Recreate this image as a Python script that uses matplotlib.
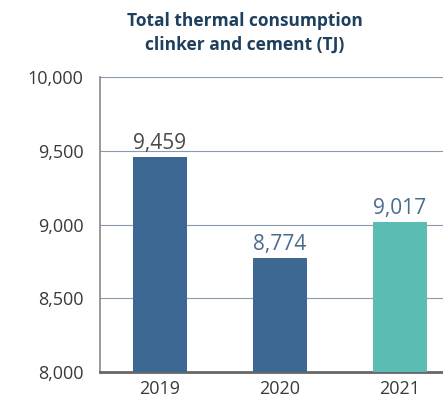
import matplotlib
matplotlib.use("Agg")
import matplotlib.pyplot as plt

years = ["2019", "2020", "2021"]
consumption = [9459, 8774, 9017]
bar_colors = ["#3d6894", "#3d6894", "#5bbcb4"]
label_colors = ["#4a4a4a", "#4a6b8c", "#4a6b8c"]
yticks = [8000, 8500, 9000, 9500, 10000]

plt.rcParams['font.family'] = ['Open Sans', 'DejaVu Sans']

fig = plt.figure(figsize=(4.43, 4.03), dpi=100)
ax = fig.add_axes([0.2257, 0.0769, 0.7743, 0.732])

x = list(range(len(years)))
ax.bar(x, [v - 8000 for v in consumption], bottom=8000, width=0.45,
       color=bar_colors, zorder=3)

for xi, v, c in zip(x, consumption, label_colors):
    ax.text(xi, v + 20, f"{v:,}", ha="center", va="bottom",
            fontsize=15, color=c, zorder=4)

ax.set_ylim(8000, 10000)
ax.set_xlim(-0.5, 2.36)
ax.set_yticks(yticks)
ax.set_yticklabels([f"{t:,}" for t in yticks])
ax.set_xticks(x)
ax.set_xticklabels(years)
ax.tick_params(axis="y", length=0, pad=12, labelsize=13, labelcolor="#3a3a3a")
ax.tick_params(axis="x", length=0, pad=6, labelsize=13, labelcolor="#3a3a3a")

for t in yticks[1:]:
    ax.axhline(t, color="#8a9aae", linewidth=0.8, zorder=1)

for s in ["top", "right"]:
    ax.spines[s].set_visible(False)
ax.spines["left"].set_color("#888888")
ax.spines["left"].set_linewidth(1.2)
ax.spines["bottom"].set_color("#666666")
ax.spines["bottom"].set_linewidth(2)

fig.text(0.553, 0.918, "Total thermal consumption\nclinker and cement (TJ)",
         ha="center", va="center", fontsize=12.5, fontweight="bold",
         color="#1f3f5f", linespacing=1.45)

fig.savefig("out.png", dpi=100)
